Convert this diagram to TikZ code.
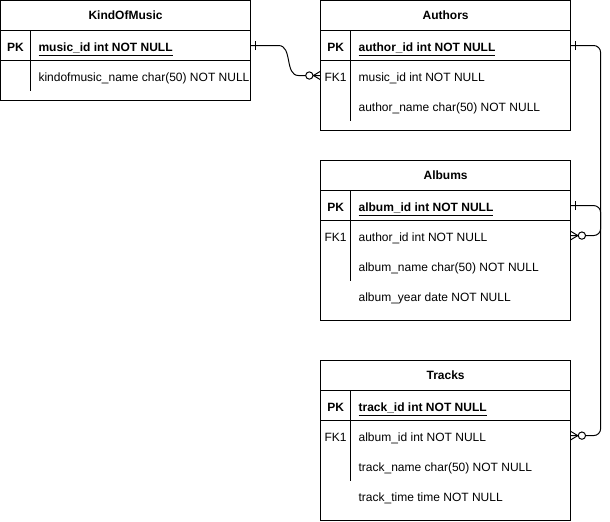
\documentclass[tikz,border=0pt]{standalone}
\usepackage{fontspec}
\setmainfont{Liberation Sans}
\usepackage{tikz}
\usetikzlibrary{positioning}
\usetikzlibrary{calc}
\usetikzlibrary{decorations,decorations.markings}
\newcommand{\erfont}{\fontsize{8.54}{10.5}\selectfont}
\tikzstyle{tabframe} = [draw, rectangle, minimum width=6.25cm, inner sep=0pt, outer sep=0pt]
\tikzstyle{tabtitle} = [draw, rectangle, minimum width=6.25cm, minimum height=0.75cm, inner sep=0pt, outer sep=0pt, font=\erfont\bfseries]
\tikzstyle{keycell} = [rectangle, minimum width=0.75cm, minimum height=0.75cm, inner sep=0pt, outer sep=0pt, text height=0.3cm, text depth=0pt]
\tikzstyle{pkcell} = [keycell, font=\erfont\bfseries]
\tikzstyle{fieldcell} = [rectangle, minimum height=0.75cm, inner xsep=0.2cm, inner ysep=0pt, outer sep=0pt, text height=0.3cm, text depth=0pt]
\tikzstyle{pkfield} = [fieldcell, font=\erfont\bfseries]
\tikzset{
  onezeromany/.style={
    postaction={decorate},
    decoration={markings,
      % bar next to the primary key
      mark=at position 3.6pt with {\draw (0,-3.2pt) -- (0,3.2pt);},
      % circle and crow's foot at the foreign key
      mark=at position -0.1pt with {
        \draw (-5pt,0) -- (0,3pt) (-5pt,0) -- (0,-3pt);
        \draw[fill=white] (-7.9pt,0) circle (2.6pt);
      }
    }
  },
}

\begin{document}
\begin{tikzpicture}[x=0.025cm, y=-0.025cm, line width=0.7pt, font=\erfont]
	\useasboundingbox (0,0) rectangle (610,521);

	% KindOfMusic
	\node [tabframe, minimum height=2.5cm, anchor=north west] (kindofmusic) at (0.5,0.5) {};
	\node [tabtitle, below=0pt of kindofmusic.north] (kindofmusictitle) {KindOfMusic};
	\node [pkcell, anchor=north west] (kindofmusicpk) at (kindofmusictitle.south west) {PK};
	\node [pkfield, right=0pt of kindofmusicpk] (kindofmusicpkname) {\underline{music\_id int NOT NULL}};
	\node [keycell, below=0pt of kindofmusicpk] (kindofmusicrow) {};
	\node [fieldcell, right=0pt of kindofmusicrow] (kindofmusicname) {kindofmusic\_name char(50) NOT NULL};
	\draw (kindofmusicpk.south west) -- (kindofmusicpk.south -| kindofmusic.east);
	\draw (kindofmusicpk.north east) -- (kindofmusicrow.south east);

	% Authors
	\node [tabframe, minimum height=3.25cm, right=1.75cm of kindofmusic.north east, anchor=north west] (authors) {};
	\node [tabtitle, below=0pt of authors.north] (authorstitle) {Authors};
	\node [pkcell, anchor=north west] (authorspk) at (authorstitle.south west) {PK};
	\node [pkfield, right=0pt of authorspk] (authorspkname) {\underline{author\_id int NOT NULL}};
	\node [keycell, below=0pt of authorspk] (authorsfk) {FK1};
	\node [fieldcell, right=0pt of authorsfk] (authorsfkname) {music\_id int NOT NULL};
	\node [keycell, below=0pt of authorsfk] (authorsrow) {};
	\node [fieldcell, right=0pt of authorsrow] (authorsname) {author\_name char(50) NOT NULL};
	\draw (authorspk.south west) -- (authorspk.south -| authors.east);
	\draw (authorspk.north east) -- (authorsrow.south east);

	% Albums
	\node [tabframe, minimum height=4cm, below=0.75cm of authors] (albums) {};
	\node [tabtitle, below=0pt of albums.north] (albumstitle) {Albums};
	\node [pkcell, anchor=north west] (albumspk) at (albumstitle.south west) {PK};
	\node [pkfield, right=0pt of albumspk] (albumspkname) {\underline{album\_id int NOT NULL}};
	\node [keycell, below=0pt of albumspk] (albumsfk) {FK1};
	\node [fieldcell, right=0pt of albumsfk] (albumsfkname) {author\_id int NOT NULL};
	\node [keycell, below=0pt of albumsfk] (albumsrow) {};
	\node [fieldcell, right=0pt of albumsrow] (albumsname) {album\_name char(50) NOT NULL};
	\node [keycell, below=0pt of albumsrow] (albumsrowyear) {};
	\node [fieldcell, right=0pt of albumsrowyear] (albumsyear) {album\_year date NOT NULL};
	\draw (albumspk.south west) -- (albumspk.south -| albums.east);
	\draw (albumspk.north east) -- (albumsrow.south east);

	% Tracks
	\node [tabframe, minimum height=4cm, below=1cm of albums] (tracks) {};
	\node [tabtitle, below=0pt of tracks.north] (trackstitle) {Tracks};
	\node [pkcell, anchor=north west] (trackspk) at (trackstitle.south west) {PK};
	\node [pkfield, right=0pt of trackspk] (trackspkname) {\underline{track\_id int NOT NULL}};
	\node [keycell, below=0pt of trackspk] (tracksfk) {FK1};
	\node [fieldcell, right=0pt of tracksfk] (tracksfkname) {album\_id int NOT NULL};
	\node [keycell, below=0pt of tracksfk] (tracksrow) {};
	\node [fieldcell, right=0pt of tracksrow] (tracksname) {track\_name char(50) NOT NULL};
	\node [keycell, below=0pt of tracksrow] (tracksrowtime) {};
	\node [fieldcell, right=0pt of tracksrowtime] (trackstime) {track\_time time NOT NULL};
	\draw (trackspk.south west) -- (trackspk.south -| tracks.east);
	\draw (trackspk.north east) -- (tracksrow.south east);

	% relations
	\draw [onezeromany] (kindofmusicpk.east -| kindofmusic.east) -- ++(28,0) to[out=0, in=180] ++(20,30) -- (authorsfk.west);
	\draw [onezeromany, rounded corners=5pt] (authorspk.east -| authors.east) -- ++(30,0) |- (albumsfk.east -| albums.east);
	\draw [onezeromany, rounded corners=5pt] (albumspk.east -| albums.east) -- ++(30,0) |- (tracksfk.east -| tracks.east);
\end{tikzpicture}
\end{document}
